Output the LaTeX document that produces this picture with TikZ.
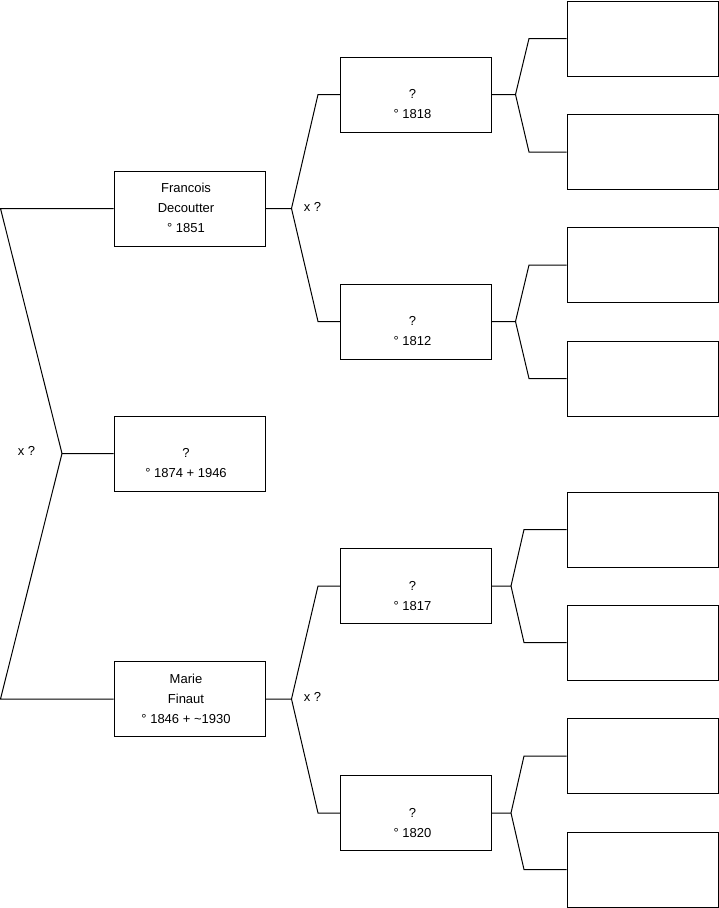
\documentclass[tikz,border=0pt]{standalone}
\usepackage{fontspec}
\setmainfont{Liberation Sans}
% Text im Kasten (etwas nach links gerückt)
\newcommand{\zeilen}[1]{\begin{tabular}{@{}c@{\hspace{7pt}}}#1\end{tabular}}
\begin{document}
\begin{tikzpicture}[x=1pt,y=-1pt,font=\fontsize{13}{20}\selectfont,
	person/.style={draw, line width=1pt, minimum width=151pt, minimum height=75pt, inner sep=0pt},
	ast/.style={draw, line width=1pt}]
	% Gesamtgröße
	\useasboundingbox (0,0) rectangle (719,908);
	
	% Spalten (Mitte der Kästen)
	\def\xa{189.5}
	\def\xb{416}
	\def\xc{642.5}
	
	% Generation 1
	\node[person] (ich) at (\xa,453.5) {\zeilen{\\?\\° 1874 + 1946}};
	
	% Generation 2 (Eltern)
	\node[person] (vater) at (\xa,208.5) {\zeilen{Francois\\Decoutter\\° 1851}};
	\node[person] (mutter) at (\xa,699) {\zeilen{Marie\\Finaut\\° 1846 + \textasciitilde1930}};
	
	% Generation 3 (Großeltern)
	\node[person] (gv1) at (\xb,94.5) {\zeilen{\\?\\° 1818}};
	\node[person] (gv2) at (\xb,321.5) {\zeilen{\\?\\° 1812}};
	\node[person] (gm1) at (\xb,586) {\zeilen{\\?\\° 1817}};
	\node[person] (gm2) at (\xb,813) {\zeilen{\\?\\° 1820}};
	
	% Generation 4 (leere Kästen)
	\foreach \n/\y in {a/38.5,b/152,c/265,d/378.5,e/529.5,f/642.5,g/756,h/869.5}
		\node[person] (u\n) at (\xc,\y) {};
	
	% Gabel Eltern
	\coordinate (k0) at (62,453.5);
	\draw[ast] (ich.west) -- (k0) -- ([xshift=-113]vater.west) -- (vater.west);
	\draw[ast] (k0) -- ([xshift=-113]mutter.west) -- (mutter.west);
	\node (x0) at (26.5,451) {x ?};
	
	% Gabeln Großeltern
	\draw[ast] (vater.east) -- ++(26,0) coordinate (k1) -- ([xshift=-22]gv1.west) -- (gv1.west);
	\draw[ast] (k1) -- ([xshift=-22]gv2.west) -- (gv2.west);
	\node (x1) at (312.5,207) {x ?};
	\draw[ast] (mutter.east) -- ++(26,0) coordinate (k2) -- ([xshift=-22]gm1.west) -- (gm1.west);
	\draw[ast] (k2) -- ([xshift=-22]gm2.west) -- (gm2.west);
	\node (x2) at (312.5,697) {x ?};
	
	% Gabeln Urgroßeltern
	\foreach \p/\o/\u/\v/\a in {gv1/ua/ub/23.5/37.5, gv2/uc/ud/23.5/37.5, gm1/ue/uf/19/42.5, gm2/ug/uh/19/42.5}{
		\draw[ast] (\p.east) -- ++(\v,0) coordinate (k\p) -- ([xshift=-\a]\o.west) -- (\o.west);
		\draw[ast] (k\p) -- ([xshift=-\a]\u.west) -- (\u.west);
	}
\end{tikzpicture}
\end{document}
